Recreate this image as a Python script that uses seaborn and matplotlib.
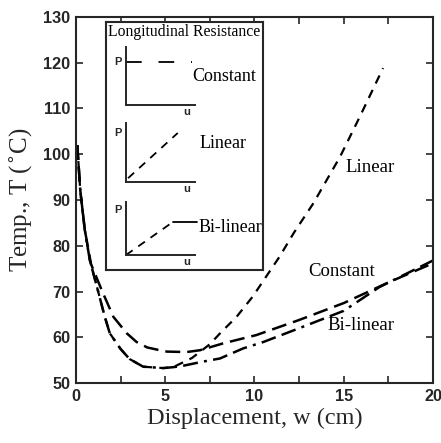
import seaborn as sns
import matplotlib
matplotlib.use("Agg")
import matplotlib.pyplot as plt
from matplotlib.ticker import MultipleLocator
import pandas as pd

sns.set_style("ticks")

# curves: displacement w (cm) vs temperature T (C)
const_w = [0.08, 0.25, 0.5, 0.85, 1.45, 2.1, 2.85, 3.4, 4.0, 4.7, 5.1, 6.2, 6.95, 8.25, 10.1, 12.5, 15.0, 17.5, 20.0]
const_t = [102, 92, 83.5, 76, 70.3, 64.5, 60.9, 59.0, 57.8, 57.2, 56.9, 56.8, 57.2, 58.7, 60.5, 63.8, 67.5, 72.0, 76.2]

bilin_w = [0.08, 0.25, 0.5, 0.78, 1.23, 1.62, 1.9, 2.5, 3.0, 3.77, 4.9, 5.45, 6.0, 7.1, 8.07, 9.37, 10.5, 12.5, 15.0, 17.0, 20.0]
bilin_t = [102, 92, 83.5, 76.9, 70.3, 64.5, 60.9, 57.5, 55.3, 53.6, 53.3, 53.5, 53.8, 54.7, 55.4, 57.6, 59.0, 62.0, 65.8, 71.0, 76.8]

lin_w = [0.08, 0.25, 0.5, 0.78, 1.23, 1.62, 1.9, 2.5, 3.0, 3.77, 4.9, 5.45, 6.5, 7.5, 8.1, 9.0, 9.9, 11.4, 12.2, 13.3, 14.8, 15.9, 17.2]
lin_t = [102, 92, 83.5, 76.9, 70.3, 64.5, 60.9, 57.5, 55.3, 53.6, 53.3, 53.5, 55.5, 58.5, 61.0, 64.5, 68.9, 77.6, 82.8, 89.3, 99.5, 108.2, 118.8]

# sketches of the resistance laws in the inset (P vs u, normalised)
law_const_u = [0.0, 0.955]
law_const_p = [0.74, 0.74]
law_lin_u = [0.03, 0.75]
law_lin_p = [0.06, 0.83]
law_bilin_u = [0.0, 0.68, 1.03]
law_bilin_p = [0.0, 0.62, 0.62]

df_c = pd.DataFrame({"w": const_w, "T": const_t})
df_b = pd.DataFrame({"w": bilin_w, "T": bilin_t})
df_l = pd.DataFrame({"w": lin_w, "T": lin_t})

W, H = 441, 443
fig = plt.figure(figsize=(W / 100, H / 100), dpi=100)
ax = fig.add_axes([0.172, 0.135, 0.810, 0.827])

sns.lineplot(data=df_c, x="w", y="T", ax=ax, color="black", lw=1.8, sort=False,
             estimator=None, linestyle=(0, (6, 2.8)))
sns.lineplot(data=df_b, x="w", y="T", ax=ax, color="black", lw=1.8, sort=False,
             estimator=None, linestyle=(0, (6, 2.5, 6, 2.5, 1.2, 2.5)))
sns.lineplot(data=df_l, x="w", y="T", ax=ax, color="black", lw=1.6, sort=False,
             estimator=None, linestyle=(0, (4, 3.2)))

ax.set_xlim(0, 20)
ax.set_ylim(50, 130)
ax.xaxis.set_major_locator(MultipleLocator(5))
ax.xaxis.set_minor_locator(MultipleLocator(2.5))
ax.yaxis.set_major_locator(MultipleLocator(10))
ax.tick_params(which="both", direction="in", top=True, right=True, length=5, width=1.2, pad=4)
for s in ax.spines.values():
    s.set_linewidth(1.5)
for lab in ax.get_xticklabels() + ax.get_yticklabels():
    lab.set_fontfamily("Liberation Sans")
    lab.set_fontweight("bold")
    lab.set_fontsize(11.7)
ax.set_xlabel("Displacement, w (cm)", fontfamily="Liberation Serif", fontsize=17.5, labelpad=3)
ax.set_ylabel("Temp., T ($^{\\circ}$C)", fontfamily="Liberation Serif", fontsize=18, labelpad=6)

serif = dict(fontfamily="Liberation Serif", color="black")
ax.text(13.0, 74.3, "Constant", ha="left", va="center", fontsize=13.5, **serif)
ax.text(14.1, 62.6, "Bi-linear", ha="left", va="center", fontsize=13.5, **serif)
ax.text(15.1, 97.0, "Linear", ha="left", va="center", fontsize=13.5, **serif)

# inset box with the resistance laws
box = fig.add_axes([106 / W, 1 - 270 / H, 157 / W, 248.3 / H])
box.set_xticks([])
box.set_yticks([])
for s in box.spines.values():
    s.set_linewidth(1.5)
box.text(0.5, 0.992, "Longitudinal Resistance", ha="center", va="top",
         fontsize=11.3, transform=box.transAxes, **serif)

laws = [
    ("Constant", law_const_u, law_const_p, (0, (8.7, 9.3)), 46.7, 105, 0.74, 224, 76.7),
    ("Linear", law_lin_u, law_lin_p, (0, (4.5, 3.8)), 123, 181.7, 0.83, 223.5, 143),
    ("Bi-linear", law_bilin_u, law_bilin_p, (0, (4.5, 3.8)), 201.7, 255, 0.85, 230, 228),
]
for name, lu, lp, ls, ytop, ybot, plev, tx, ty in laws:
    m = fig.add_axes([126 / W, 1 - ybot / H, 69 / W, (ybot - ytop) / H])
    m.patch.set_alpha(0)
    sns.lineplot(x=lu[:2], y=lp[:2], ax=m, color="black", lw=1.3, linestyle=ls,
                 estimator=None, sort=False)
    if len(lu) > 2:
        sns.lineplot(x=lu[1:], y=lp[1:], ax=m, color="black", lw=1.3,
                     estimator=None, sort=False)
    for ln in m.get_lines():
        ln.set_clip_on(False)
    m.set_xlim(0, 1)
    m.set_ylim(0, 1)
    m.set_xticks([])
    m.set_yticks([])
    m.spines["top"].set_visible(False)
    m.spines["right"].set_visible(False)
    m.spines["left"].set_linewidth(1.4)
    m.spines["bottom"].set_linewidth(1.4)
    m.text(-0.06, plev, "P", ha="right", va="center", fontsize=8, fontweight="bold",
           fontfamily="Liberation Sans", transform=m.transAxes)
    m.text(0.88, -0.04, "u", ha="center", va="top", fontsize=8, fontweight="bold",
           fontfamily="Liberation Sans", transform=m.transAxes)
    fig.text(tx / W, 1 - ty / H, name, ha="center", va="center", fontsize=13, **serif)

fig.savefig("out.png", dpi=100)
